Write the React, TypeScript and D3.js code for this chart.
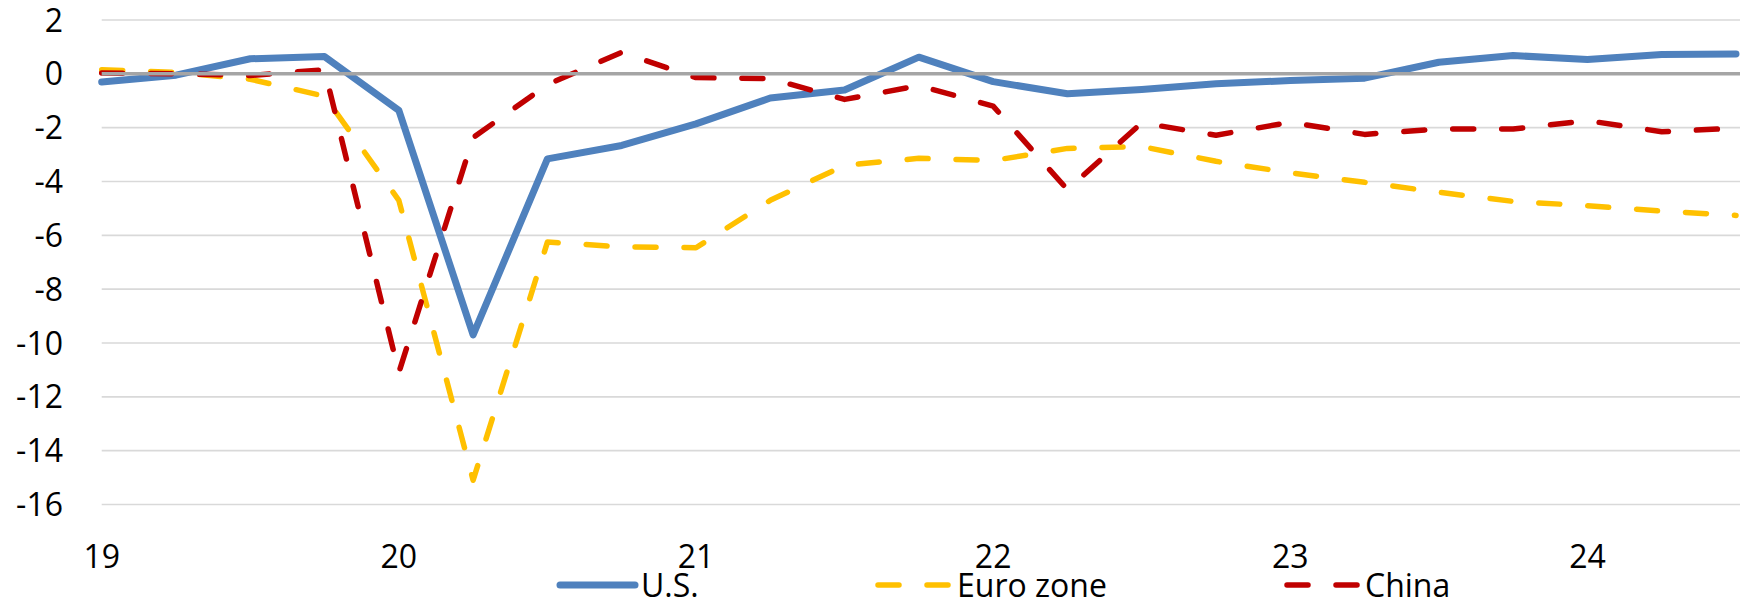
import React from 'react'
import * as d3 from 'd3'

// quarterly, 2019Q1 .. 2024Q3
const quarters = [
  '19Q1', '19Q2', '19Q3', '19Q4',
  '20Q1', '20Q2', '20Q3', '20Q4',
  '21Q1', '21Q2', '21Q3', '21Q4',
  '22Q1', '22Q2', '22Q3', '22Q4',
  '23Q1', '23Q2', '23Q3', '23Q4',
  '24Q1', '24Q2', '24Q3',
]

const usValues = [
  -0.3, -0.05, 0.56, 0.64,
  -1.36, -9.7, -3.16, -2.66,
  -1.86, -0.9, -0.6, 0.62,
  -0.29, -0.74, -0.58, -0.37,
  -0.25, -0.16, 0.43, 0.68,
  0.53, 0.72, 0.74,
]

const euroValues = [
  0.15, 0.05, -0.2, -0.83,
  -4.7, -15.1, -6.25, -6.43,
  -6.46, -4.7, -3.4, -3.14,
  -3.22, -2.77, -2.7, -3.25,
  -3.68, -4.03, -4.4, -4.74,
  -4.9, -5.1, -5.26,
]

const chinaValues = [
  0.03, 0.0, -0.06, 0.15,
  -11.1, -2.37, -0.4, 0.8,
  -0.14, -0.18, -0.95, -0.44,
  -1.2, -4.3, -1.82, -2.28,
  -1.8, -2.25, -2.05, -2.05,
  -1.74, -2.15, -2.02,
]

const yTicks = [2, 0, -2, -4, -6, -8, -10, -12, -14, -16]
const yearLabels = ['19', '20', '21', '22', '23', '24']

const series = [
  { name: 'U.S.', values: usValues, color: '#4f81bd', width: 7, dash: null },
  { name: 'Euro zone', values: euroValues, color: '#ffc000', width: 5.5, dash: '21,28' },
  { name: 'China', values: chinaValues, color: '#c00000', width: 5.5, dash: '21,28' },
]

const W = 1747
const H = 602
const FONT = "'Open Sans', 'Noto Sans', sans-serif"

export default function App() {
  const x = d3.scalePoint<string>().domain(quarters).range([101.7, 1736])
  const y = d3.scaleLinear().domain([-16, 2]).range([504.5, 20])

  const line = d3.line<number>()
    .x((_, i) => x(quarters[i]) as number)
    .y(d => y(d))

  const gridLeft = 101.7
  const gridRight = 1740

  // legend slots
  const legend = [
    { x0: 560, x1: 635, tx: 641 },
    { x0: 878, x1: 951, tx: 957 },
    { x0: 1287, x1: 1359, tx: 1365 },
  ]

  return (
    <svg
      width={W}
      height={H}
      style={{ position: 'absolute', left: 0, top: 0, background: '#fff' }}
      fontFamily={FONT}
    >
      {/* gridlines */}
      {yTicks.filter(t => t !== 0).map(t => (
        <line key={t} x1={gridLeft} x2={gridRight} y1={y(t)} y2={y(t)}
          stroke="#d9d9d9" strokeWidth={1.6} />
      ))}

      {/* y labels */}
      {yTicks.map(t => (
        <text key={'yl' + t} x={63} y={y(t) + 11.5} textAnchor="end"
          fontSize={32} fill="#000">{t}</text>
      ))}

      {/* series */}
      {series.map(s => (
        <path key={s.name} d={line(s.values) || ''} fill="none"
          stroke={s.color} strokeWidth={s.width}
          strokeDasharray={s.dash || undefined}
          strokeLinecap="round" strokeLinejoin="round" />
      ))}

      {/* zero axis */}
      <line x1={gridLeft} x2={gridRight} y1={y(0)} y2={y(0)}
        stroke="#a5a5a5" strokeWidth={3.5} />

      {/* x labels */}
      {yearLabels.map(yr => (
        <text key={yr} x={x(yr + 'Q1') as number} y={568} textAnchor="middle"
          fontSize={32} fill="#000">{yr}</text>
      ))}

      {/* legend */}
      {series.map((s, i) => (
        <g key={'lg' + s.name}>
          <line x1={legend[i].x0} x2={legend[i].x1} y1={585} y2={585}
            stroke={s.color} strokeWidth={s.width}
            strokeDasharray={s.dash || undefined} strokeLinecap="round" />
          <text x={legend[i].tx} y={597} fontSize={32} fill="#000">{s.name}</text>
        </g>
      ))}
    </svg>
  )
}
